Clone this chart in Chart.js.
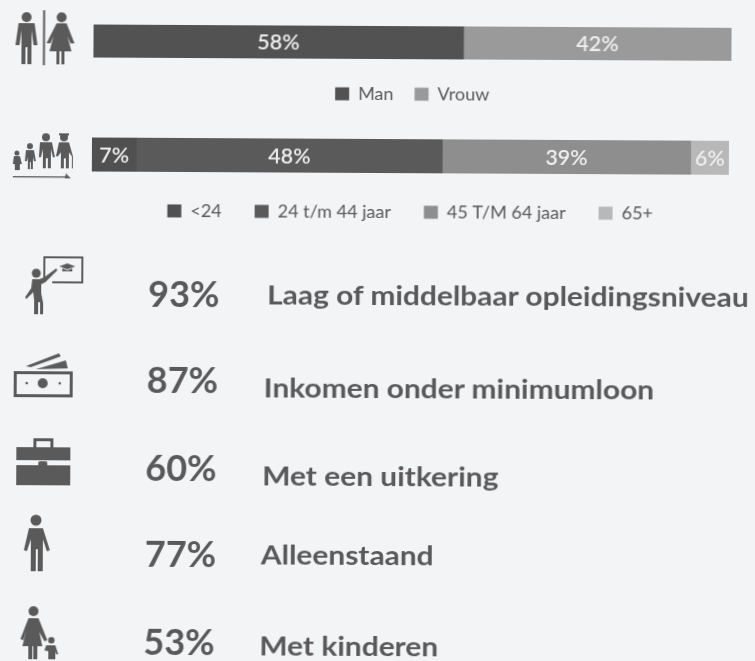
<!DOCTYPE html>
<html><head><meta charset="utf-8">
<script src="https://cdn.jsdelivr.net/npm/chart.js@4"></script>
<style>
html,body{margin:0;padding:0;background:#f3f4f6;overflow:hidden}
#stage{position:absolute;left:0;top:0;width:755px;height:661px;transform:rotate(0.3deg);transform-origin:377px 330px;filter:blur(0.55px);font-family:Lato,sans-serif;color:#595959}
.c{position:absolute}
.pct,.lab{position:absolute;white-space:nowrap;font-weight:700;line-height:1}
.pct{font-size:36px;transform:translateY(-50%)}
.lab{font-size:26px;transform-origin:0 50%;transform:translateY(-50%) scaleX(1.15)}
svg{position:absolute;left:0;top:0}
</style></head><body>
<div id="stage">
<div class="c" style="left:92px;top:26px;width:638px;height:98px"><canvas id="g"></canvas></div>
<div class="c" style="left:91px;top:139px;width:637px;height:118px"><canvas id="a"></canvas></div>
<div id="rows"></div>
<svg width="755" height="661" fill="#5a5a5a">
 <!-- gender -->
 <circle cx="25" cy="19" r="5"/><path d="M17 25h16l3 22h-4l-2-15v34h-4V49h-2v17h-4V32l-2 15h-4z"/>
 <rect x="41.5" y="12" width="2" height="55"/>
 <circle cx="60" cy="19" r="5"/><path d="M55 25h10l8 20h-4l-3-7 4 15h-7v13h-3V53h-2v13h-3V53h-7l4-15-3 7h-4z"/>
 <!-- age -->
 <circle cx="16" cy="155" r="2.5"/><path d="M13 158h6l2 8h-2v6h-5v-6h-2z"/>
 <circle cx="29" cy="148" r="3"/><path d="M25 152h8l2 11h-2l-1-4v12h-2v-7h-1v7h-2v-12l-1 4h-2z"/>
 <circle cx="45" cy="139" r="4"/><path d="M39 144h12l3 15h-2l-2-8v19h-3v-10h-2v10h-3v-19l-2 8h-2z"/>
 <circle cx="63" cy="139" r="4"/><path d="M58 135h10v2H58z"/><path d="M58 144h10l4 14v12h-1v-12l-3-4v16h-3v-10h-2v10h-3v-16l-3 4h-2z"/>
 <rect x="12" y="178" width="56" height="1.3"/><path d="M65 175l5 5h-6z"/>
 <!-- teacher -->
 <path fill="none" stroke="#5a5a5a" stroke-width="2" d="M44 280v-21h38v25H52"/>
 <circle cx="36" cy="275" r="4.5"/>
 <path d="M32 281h7l5-2 12-9 1 2-12 12-4 2v9l2 10v11h-3v-12h-2v12h-4v-14l-1-8-7 7-1-2 6-9z"/>
 <path d="M67 265l8 3-8 3-8-3zM62 270v3h10v-3l-5 2z"/>
 <!-- money -->
 <path d="M14 373h59v26H14zM17 376v20h53v-20z" fill-rule="evenodd"/>
 <circle cx="43" cy="385" r="5"/><circle cx="27" cy="385" r="1.3"/><circle cx="60" cy="385" r="1.3"/>
 <path d="M26 368l33-13 2 3-30 11zM36 371l30-9 2 8z"/>
 <!-- case -->
 <path d="M17 449h54v13H17zM17 467h54v20H17z"/><path d="M34 449v-9h20v9h-3v-6H37v6z"/>
 <rect x="39" y="463" width="9" height="7" rx="1.5" />
 <!-- man -->
 <circle cx="37" cy="522" r="5.5"/><path d="M30 530h14l7 22-3 1-4-12v32h-5v-22h-2v22h-5v-32l-4 12-3-1z"/>
 <!-- mother child -->
 <circle cx="35" cy="613" r="5"/><path d="M30 620h10l9 22-3 1-5-9 3 14h-5v13h-4v-13h-1v13h-4v-13h-6l4-16-3 10-3-1z"/>
 <circle cx="53" cy="642" r="3.2"/><path d="M48 647h9l3 9h-2l-1-3v8h-7v-8l-4-1z"/>
</svg>
</div>
<script>
const genderLabels=["Man","Vrouw"];
const genderValues=[58,42];
const genderColors=["#525252","#9a9a9a"];
const ageLabels=["<24","24 t/m 44 jaar","45 T/M 64 jaar","65+"];
const ageValues=[7,48,39,6];
const ageColors=["#505050","#5a5a5a","#8e8e8e","#b8b8b8"];
const statValues=[93,87,60,77,53];
const statLabels=["Laag of middelbaar opleidingsniveau","Inkomen onder minimumloon","Met een uitkering","Alleenstaand","Met kinderen"];
const statPctY=[294,380,468,554,642];
const statLabY=[295,388,476,555,646];
const statLabX=[267,264,263,262,261];
const statPctX=[148,147,146,146,145];

const rows=document.getElementById('rows');
statValues.forEach((v,i)=>{
  const p=document.createElement('div');p.className='pct';p.textContent=v+'%';p.style.left=statPctX[i]+'px';p.style.top=statPctY[i]+'px';rows.appendChild(p);
  const l=document.createElement('div');l.className='lab';l.textContent=statLabels[i];l.style.left=statLabX[i]+'px';l.style.top=statLabY[i]+'px';rows.appendChild(l);
});

const valueLabels={id:'valueLabels',afterDatasetsDraw(chart){
  const c=chart.ctx;c.save();c.fillStyle='#eeeeee';c.font='600 21.5px Lato';c.textAlign='center';c.textBaseline='middle';
  chart.data.datasets.forEach((d,i)=>{
    const el=chart.getDatasetMeta(i).data[0];
    c.fillText(d.data[0]+'%',(el.x+el.base)/2,el.y+1);
  });
  c.restore();
}};

function stacked(id,labels,values,colors,gap,pad,lift){
  const legendRoom={id:'legendRoom',beforeLayout(chart){
    const lg=chart.legend;
    if(!lg._roomy){
      lg._roomy=true;
      const fit=lg.fit;
      lg.fit=function(){fit.call(this);this.height=pad*2+18;};
    }
  },afterLayout(chart){
    chart.legend.top-=lift;chart.legend.bottom-=lift;
  }};
  new Chart(document.getElementById(id),{
    type:'bar',
    data:{labels:[''],datasets:labels.map((l,i)=>({label:l,data:[values[i]],backgroundColor:colors[i],borderWidth:0,barPercentage:1,categoryPercentage:1}))},
    options:{
      indexAxis:'y',responsive:true,maintainAspectRatio:false,animation:false,
      layout:{padding:0},
      scales:{
        x:{stacked:true,min:0,max:100,display:true,ticks:{display:false},grid:{display:false},border:{display:false},afterFit(s){s.height=gap}},
        y:{stacked:true,display:false}
      },
      plugins:{
        tooltip:{enabled:false},
        legend:{position:'bottom',labels:{boxWidth:14,boxHeight:13,padding:pad,color:'#595959',font:{family:'Lato',size:18}}}
      }
    },
    plugins:[legendRoom,valueLabels]
  });
}
stacked('g',genderLabels,genderValues,genderColors,5,21,0);
stacked('a',ageLabels,ageValues,ageColors,0,33,3);
</script>
</body></html>
